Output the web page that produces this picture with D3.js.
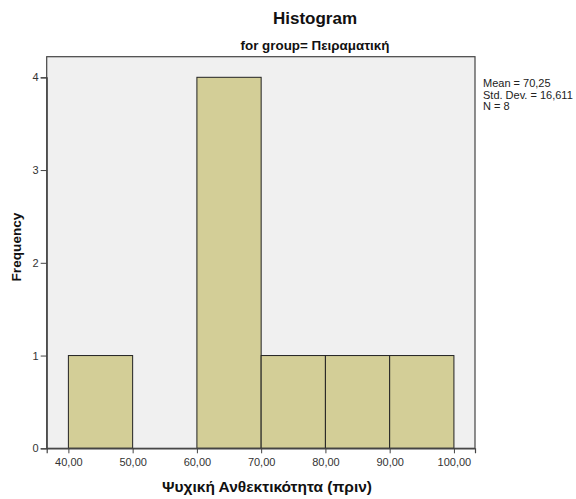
<!DOCTYPE html>
<html><head><meta charset="utf-8">
<script src="https://cdn.jsdelivr.net/npm/d3@7/dist/d3.min.js"></script>
<style>body{margin:0;background:#fff}svg{display:block}text{font-family:"Liberation Sans",Arial,sans-serif}</style>
</head><body>
<script>
const binStarts = [40, 50, 60, 70, 80, 90];
const binWidth = 10;
const frequencies = [1, 0, 4, 1, 1, 1];
const xTicks = [40, 50, 60, 70, 80, 90, 100];
const yTicks = [0, 1, 2, 3, 4];
const statsLines = ["Mean = 70,25", "Std. Dev. = 16,611", "N = 8"];

const W = 576, H = 499;
const L = 46.7, R = 475, T = 56.7, B = 448.3;
const svg = d3.select("body").append("svg").attr("width", W).attr("height", H);

const x = d3.scaleLinear().domain([36.625, 103.28]).range([L, R]);
const y = d3.scaleLinear().domain([0, 4]).range([B, 77.3]);

svg.append("rect").attr("x", L).attr("y", T).attr("width", R - L).attr("height", B - T)
  .attr("fill", "#f0f0f0");

svg.selectAll("rect.bar").data(binStarts.map((s, i) => ({s, f: frequencies[i]})).filter(d => d.f > 0))
  .enter().append("rect").attr("class", "bar")
  .attr("x", d => x(d.s)).attr("width", d => x(d.s + binWidth) - x(d.s))
  .attr("y", d => y(d.f)).attr("height", d => y(0) - y(d.f))
  .attr("fill", "#d3ce97").attr("stroke", "#222").attr("stroke-width", 1);

svg.append("rect").attr("x", L).attr("y", T).attr("width", R - L).attr("height", B - T)
  .attr("fill", "none").attr("stroke", "#444").attr("stroke-width", 1.2);

const fmt = v => d3.format(".2f")(v).replace(".", ",");
const xAxis = svg.append("g").attr("transform", `translate(0,${B})`)
  .call(d3.axisBottom(x).tickValues(xTicks).tickFormat(fmt).tickSize(5).tickPadding(5));
const yAxis = svg.append("g").attr("transform", `translate(${L},0)`)
  .call(d3.axisLeft(y).tickValues(yTicks).tickFormat(d3.format("d")).tickSize(6).tickPadding(2));
[xAxis, yAxis].forEach(g => {
  g.select(".domain").attr("stroke", "#444").attr("stroke-width", 1.2);
  g.selectAll(".tick line").attr("stroke", "#444");
  g.selectAll(".tick text").attr("fill", "#333").style("font-size", "11px").style("font-family", "'Liberation Sans',Arial,sans-serif");
});

function fit(sel, target) {
  const n = sel.node();
  const fs = parseFloat(sel.style("font-size"));
  const w = n.getComputedTextLength();
  if (w > 0) sel.style("font-size", (fs * target / w).toFixed(2) + "px");
}

svg.append("text").attr("x", 315).attr("y", 24).attr("text-anchor", "middle")
  .style("font-size", "17px").style("font-weight", "bold").attr("fill", "#111").text("Histogram");
const sub = svg.append("text").attr("x", 315).attr("y", 50).attr("text-anchor", "middle")
  .style("font-size", "12px").style("font-weight", "bold").attr("fill", "#111").text("for group= Πειραματική");
fit(sub, 149);
const xt = svg.append("text").attr("x", 267).attr("y", 492).attr("text-anchor", "middle")
  .style("font-size", "14px").style("font-weight", "bold").attr("fill", "#111").text("Ψυχική Ανθεκτικότητα (πριν)");
fit(xt, 210);
const yt = svg.append("text").attr("transform", "translate(21,247) rotate(-90)").attr("text-anchor", "middle")
  .style("font-size", "14px").style("font-weight", "bold").attr("fill", "#111").text("Frequency");
fit(yt, 69);

svg.selectAll("text.stat").data(statsLines).enter().append("text").attr("class", "stat")
  .attr("x", 483).attr("y", (d, i) => 87 + i * 11.5)
  .style("font-size", "11px").attr("fill", "#222").text(d => d);
</script>
</body></html>
